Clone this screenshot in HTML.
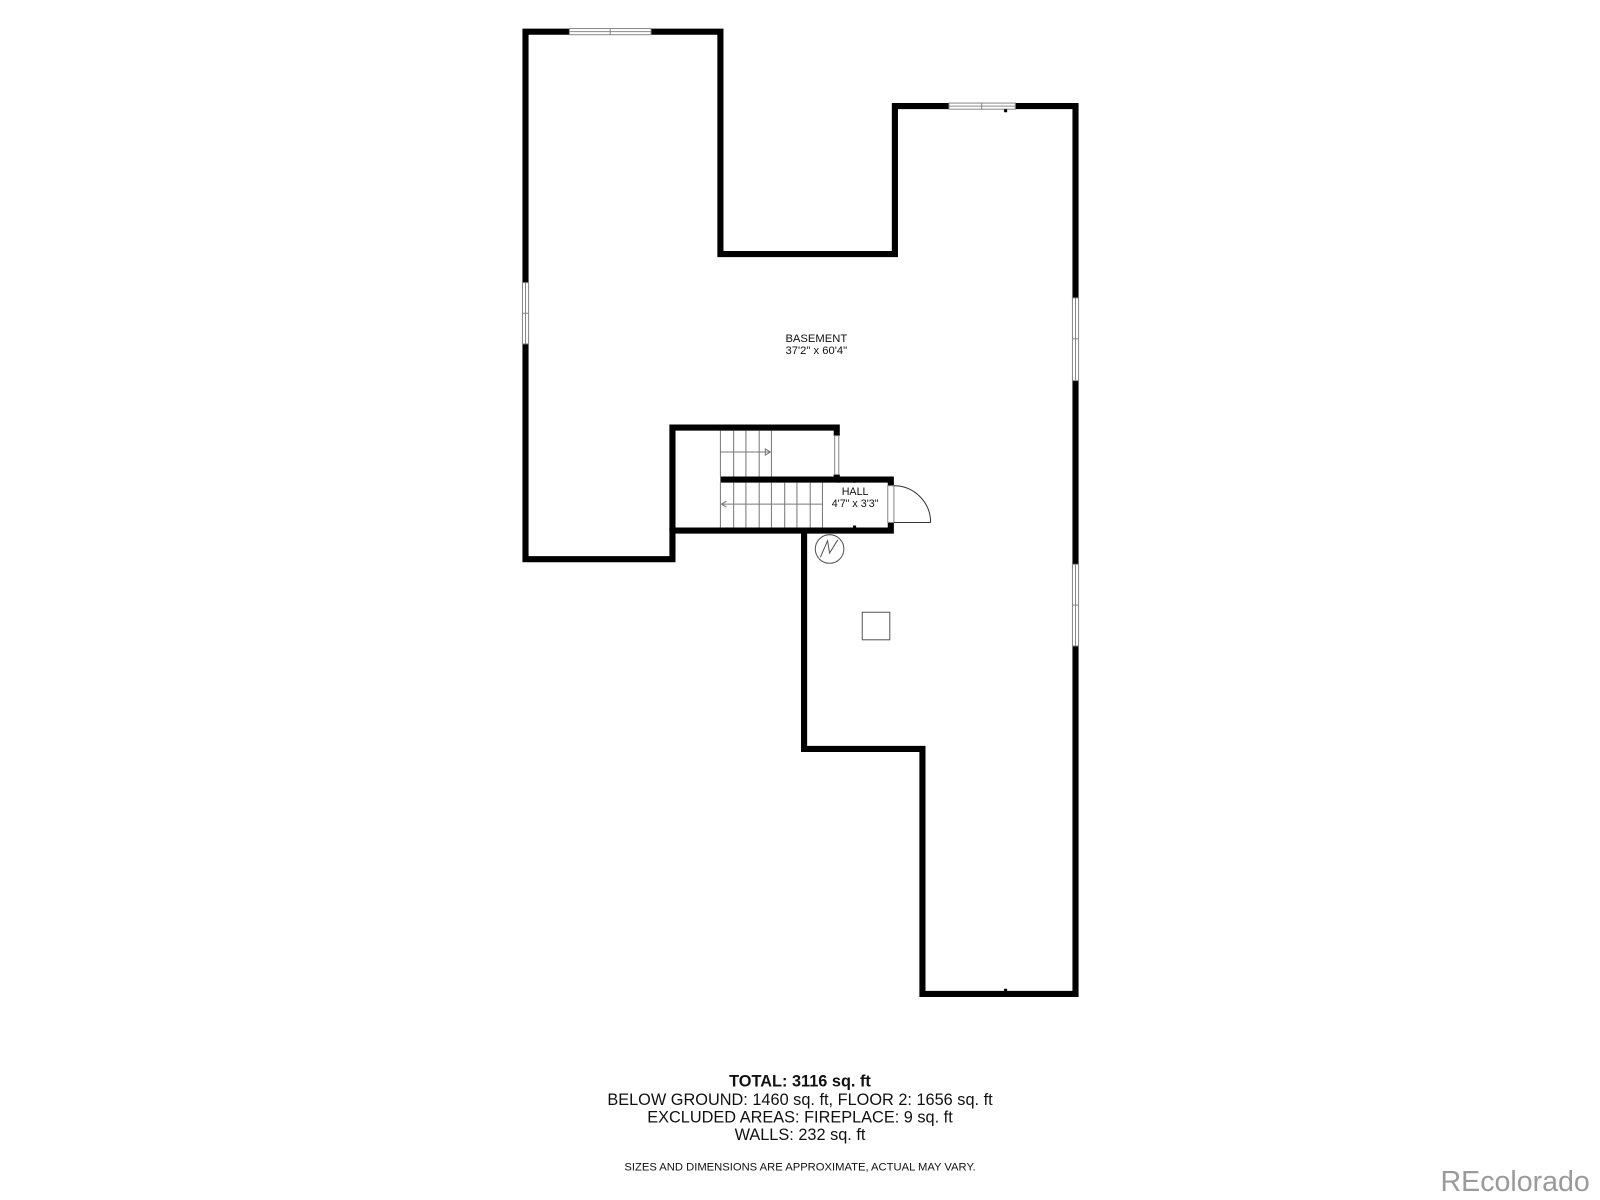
<!DOCTYPE html>
<html><head><style>html,body{margin:0;padding:0;background:#fff}svg{display:block}</style></head><body>
<svg width="1600" height="1200" viewBox="0 0 1568 1176" xmlns="http://www.w3.org/2000/svg" font-family="Liberation Sans, sans-serif">
<rect width="1568" height="1176" fill="#fff"/>
<g fill="none" stroke="#000" stroke-width="6" stroke-linejoin="miter">
<polygon points="515,31 706,31 706,249 877,249 877,104 1054,104 1054,974 904,974 904,734 788,734 788,520 659,520 659,548 515,548"/>
<polyline points="659,520 659,419 820,419 820,427"/>
<polyline points="820,465 820,470 706,470"/>
<polyline points="820,470 873,470 873,520 785,520"/>
</g>
<g fill="#fff" stroke="#888" stroke-width="1">
<rect x="558" y="28" width="80" height="6"/><line x1="558" y1="31" x2="638" y2="31"/><line x1="598" y1="28" x2="598" y2="34"/>
<rect x="930" y="101" width="65" height="6"/><line x1="930" y1="104" x2="995" y2="104"/><line x1="962" y1="101" x2="962" y2="107"/>
<rect x="512" y="277" width="6" height="60"/><line x1="515" y1="277" x2="515" y2="337"/><line x1="512" y1="307" x2="518" y2="307"/>
<rect x="1051" y="292" width="6" height="81"/><line x1="1054" y1="292" x2="1054" y2="373"/><line x1="1051" y1="332" x2="1057" y2="332"/>
<rect x="1051" y="553" width="6" height="80"/><line x1="1054" y1="553" x2="1054" y2="633"/><line x1="1051" y1="593" x2="1057" y2="593"/>
<rect x="818" y="427" width="4" height="38"/>
<rect x="870" y="476" width="6" height="36"/>
</g>
<g stroke="#777" stroke-width="1" fill="none">
<line x1="706" y1="422" x2="706" y2="467"/><line x1="719" y1="422" x2="719" y2="467"/><line x1="731" y1="422" x2="731" y2="467"/><line x1="744" y1="422" x2="744" y2="467"/><line x1="756" y1="422" x2="756" y2="467"/>
<line x1="706" y1="443" x2="754" y2="443"/><path d="M750,440 L755,443 L750,446 Z"/>
<line x1="706" y1="473" x2="706" y2="517"/><line x1="719" y1="473" x2="719" y2="517"/><line x1="731" y1="473" x2="731" y2="517"/><line x1="744" y1="473" x2="744" y2="517"/><line x1="756" y1="473" x2="756" y2="517"/><line x1="769" y1="473" x2="769" y2="517"/><line x1="781" y1="473" x2="781" y2="517"/><line x1="794" y1="473" x2="794" y2="517"/><line x1="806" y1="473" x2="806" y2="517"/>
<line x1="708" y1="494" x2="806" y2="494"/><path d="M712,491 L707,494 L712,497"/>
<path d="M876,476 A36,36 0 0 1 912,512" stroke="#333"/><line x1="876" y1="512" x2="912" y2="512" stroke="#333"/>
<circle cx="813" cy="538" r="14" stroke="#555"/><path d="M804,546 L811,530 L813,542 L821,529" stroke="#555"/>
<rect x="845" y="600" width="27" height="27" stroke="#555"/>
</g>
<g fill="#000"><rect x="836" y="470" width="3" height="3"/><rect x="836" y="515" width="3" height="3"/><rect x="984" y="107" width="3" height="3"/><rect x="984" y="969" width="3" height="3"/></g>
<g font-size="11" text-anchor="middle" fill="#111">
<text x="800" y="335">BASEMENT</text><text x="800" y="347">37'2" x 60'4"</text>
<text x="838" y="485" font-size="10.5">HALL</text><text x="838" y="497" font-size="10.5">4'7" x 3'3"</text>
</g>
<g text-anchor="middle" fill="#111" font-size="16">
<text x="784" y="1065" font-weight="bold">TOTAL: 3116 sq. ft</text>
<text x="784" y="1083">BELOW GROUND: 1460 sq. ft, FLOOR 2: 1656 sq. ft</text>
<text x="784" y="1100">EXCLUDED AREAS: FIREPLACE: 9 sq. ft</text>
<text x="784" y="1117">WALLS: 232 sq. ft</text>
<text x="784" y="1147" font-size="11">SIZES AND DIMENSIONS ARE APPROXIMATE, ACTUAL MAY VARY.</text>
</g>
<text x="1558" y="1167" text-anchor="end" font-size="28" fill="#9a9a9a">REcolorado</text>
</svg>
</body></html>
